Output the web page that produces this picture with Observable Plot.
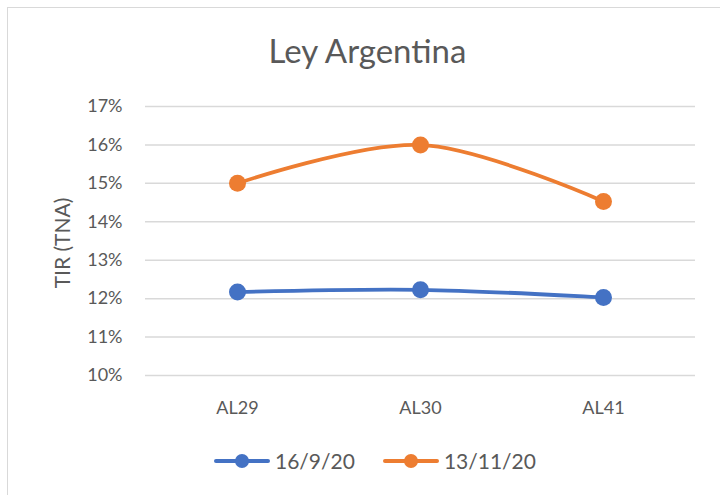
<!DOCTYPE html>
<html>
<head>
<meta charset="utf-8">
<script src="https://cdn.jsdelivr.net/npm/d3@7"></script>
<script src="https://cdn.jsdelivr.net/npm/@observablehq/plot@0.6"></script>
<style>
  html, body { margin: 0; padding: 0; background: #fff; }
  #wrap { position: relative; width: 720px; height: 495px; overflow: hidden; font-family: Lato, "Open Sans", sans-serif; color: #595959; }
  #frame { position: absolute; left: 7px; top: 7px; width: 760px; height: 540px; border: 1.5px solid #d9d9d9; box-sizing: border-box; }
  #title { position: absolute; left: 0; width: 735px; top: 30px; text-align: center; font-size: 33px; line-height: 40px; color: #595959; }
  #chart { position: absolute; left: 0; top: 0; }
  #legend { position: absolute; top: 448px; left: 214px; display: flex; align-items: center; font-size: 21px; color: #595959; }
  .item { display: flex; align-items: center; margin-right: 28px; }
  .sw { position: relative; width: 56px; height: 18px; margin-right: 5px; }
  .sw .ln { position: absolute; left: 0; right: 0; top: 7px; height: 4px; border-radius: 2px; }
  .sw .dt { position: absolute; left: 21px; top: 2px; width: 14px; height: 14px; border-radius: 50%; }
</style>
</head>
<body>
<div id="wrap">
  <div id="frame"></div>
  <div id="title">Ley Argentina</div>
  <div id="chart"></div>
  <div id="legend"></div>
</div>
<script>
const categories = ["AL29", "AL30", "AL41"];
const seriesNames = ["16/9/20", "13/11/20"];
const values_16_9_20 = [0.1217, 0.1223, 0.1203];
const values_13_11_20 = [0.1500, 0.1600, 0.1453];
const seriesColors = ["#4472C4", "#ED7D31"];
const yTicks = [0.10, 0.11, 0.12, 0.13, 0.14, 0.15, 0.16, 0.17];
const yLabel = "TIR (TNA)";

const seriesValues = [values_16_9_20, values_13_11_20];
const data = [];
seriesNames.forEach((s, i) => {
  categories.forEach((c, j) => data.push({series: s, cat: c, value: seriesValues[i][j]}));
});

const chart = Plot.plot({
  width: 720,
  height: 495,
  marginLeft: 145,
  marginRight: 25,
  marginTop: 106,
  marginBottom: 120,
  style: {fontFamily: "Lato, 'Open Sans', sans-serif", fontSize: "18px", color: "#595959", background: "transparent"},
  x: {type: "point", domain: categories, padding: 0.5},
  y: {domain: [0.10, 0.17]},
  color: {domain: seriesNames, range: seriesColors},
  marks: [
    Plot.gridY(yTicks, {stroke: "#d9d9d9", strokeOpacity: 1, strokeWidth: 1.5}),
    Plot.axisY(yTicks, {tickSize: 0, tickPadding: 23, tickFormat: d3.format(".0%"), label: null, fontSize: 18}),
    Plot.text([yLabel], {frameAnchor: "left", textAnchor: "middle", rotate: -90, dx: -82, dy: 2, fontSize: 21, fill: "#595959"}),
    Plot.axisX({tickSize: 0, tickPadding: 26, label: null, fontSize: 18}),
    Plot.line(data, {x: "cat", y: "value", z: "series", stroke: "series", strokeWidth: 3.8, curve: "catmull-rom"}),
    Plot.dot(data, {x: "cat", y: "value", fill: "series", r: 8.5})
  ]
});
document.getElementById("chart").appendChild(chart);

const legend = document.getElementById("legend");
seriesNames.forEach((s, i) => {
  const item = document.createElement("div");
  item.className = "item";
  item.innerHTML = `<div class="sw"><div class="ln" style="background:${seriesColors[i]}"></div><div class="dt" style="background:${seriesColors[i]}"></div></div><span>${s}</span>`;
  legend.appendChild(item);
});
</script>
</body>
</html>
